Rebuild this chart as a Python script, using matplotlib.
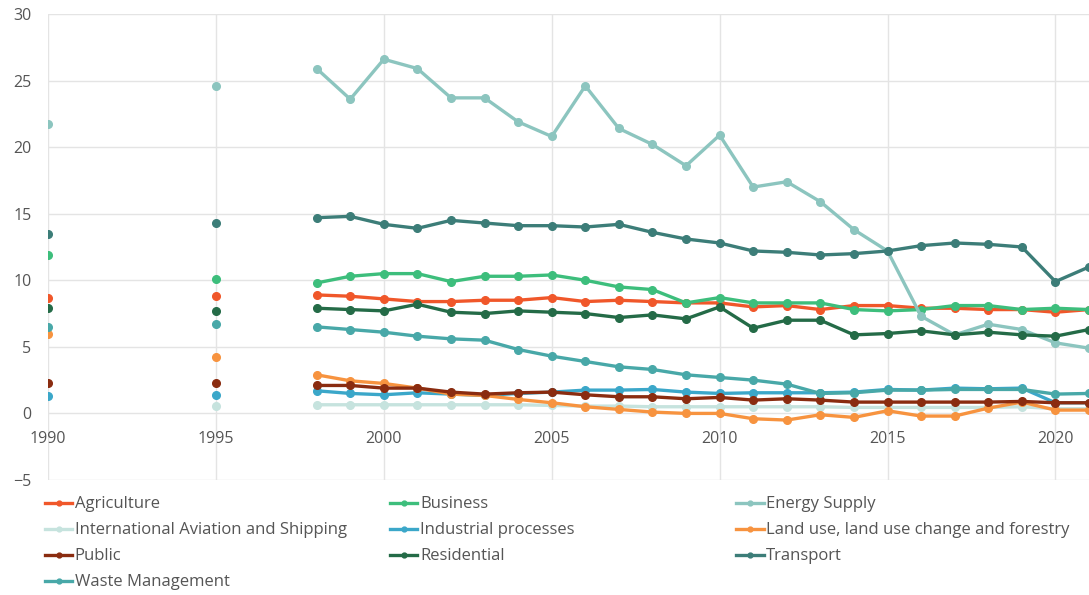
import numpy as np
import matplotlib.pyplot as plt
from matplotlib.lines import Line2D

# ───────────── data (MtCO2e by sector) ─────────────
years = [1990, 1995, 1998, 1999, 2000, 2001, 2002, 2003, 2004, 2005, 2006, 2007,
         2008, 2009, 2010, 2011, 2012, 2013, 2014, 2015, 2016, 2017, 2018, 2019,
         2020, 2021]

agriculture = [8.7, 8.8, 8.9, 8.8, 8.6, 8.4, 8.4, 8.5, 8.5, 8.7, 8.4, 8.5,
               8.4, 8.3, 8.3, 8.0, 8.1, 7.8, 8.1, 8.1, 7.9, 7.9, 7.8, 7.8,
               7.6, 7.8]
business = [11.9, 10.1, 9.8, 10.3, 10.5, 10.5, 9.9, 10.3, 10.3, 10.4, 10.0, 9.5,
            9.3, 8.3, 8.7, 8.3, 8.3, 8.3, 7.8, 7.7, 7.8, 8.1, 8.1, 7.8,
            7.9, 7.8]
energy_supply = [21.7, 24.6, 25.9, 23.6, 26.6, 25.9, 23.7, 23.7, 21.9, 20.8, 24.6, 21.4,
                 20.2, 18.6, 20.9, 17.0, 17.4, 15.9, 13.8, 12.2, 7.3, 5.9, 6.7, 6.3,
                 5.3, 4.9]
intl_aviation = [np.nan, 0.55, 0.65, 0.65, 0.65, 0.65, 0.65, 0.65, 0.65, 0.6, 0.55, 0.55,
                 0.5, 0.5, 0.5, 0.5, 0.5, 0.5, 0.45, 0.45, 0.45, 0.45, 0.45, 0.5,
                 0.35, 0.35]
industrial = [1.3, 1.4, 1.7, 1.5, 1.4, 1.55, 1.45, 1.35, 1.5, 1.6, 1.75, 1.75,
              1.8, 1.6, 1.5, 1.55, 1.55, 1.55, 1.6, 1.8, 1.75, 1.9, 1.85, 1.9,
              0.8, 0.8]
land_use = [6.0, 4.2, 2.9, 2.45, 2.25, 1.9, 1.45, 1.35, 1.05, 0.8, 0.5, 0.3,
            0.1, 0.0, 0.0, -0.4, -0.5, -0.1, -0.3, 0.2, -0.2, -0.2, 0.4, 0.85,
            0.25, 0.25]
public = [2.25, 2.25, 2.1, 2.1, 1.9, 1.9, 1.6, 1.45, 1.55, 1.6, 1.4, 1.25,
          1.25, 1.1, 1.2, 1.0, 1.1, 1.0, 0.85, 0.85, 0.85, 0.85, 0.85, 0.9,
          0.8, 0.8]
residential = [7.9, 7.7, 7.9, 7.8, 7.7, 8.2, 7.6, 7.5, 7.7, 7.6, 7.5, 7.2,
               7.4, 7.1, 8.0, 6.4, 7.0, 7.0, 5.9, 6.0, 6.2, 5.9, 6.1, 5.9,
               5.8, 6.3]
transport = [13.5, 14.3, 14.7, 14.8, 14.2, 13.9, 14.5, 14.3, 14.1, 14.1, 14.0, 14.2,
             13.6, 13.1, 12.8, 12.2, 12.1, 11.9, 12.0, 12.2, 12.6, 12.8, 12.7, 12.5,
             9.9, 11.0]
waste = [6.5, 6.7, 6.5, 6.3, 6.1, 5.8, 5.6, 5.5, 4.8, 4.3, 3.9, 3.5,
         3.3, 2.9, 2.7, 2.5, 2.2, 1.5, 1.55, 1.75, 1.75, 1.8, 1.8, 1.8,
         1.45, 1.5]

labels = ["Agriculture", "Business", "Energy Supply",
          "International Aviation and Shipping", "Industrial processes",
          "Land use, land use change and forestry", "Public", "Residential",
          "Transport", "Waste Management"]
series = [agriculture, business, energy_supply, intl_aviation, industrial,
          land_use, public, residential, transport, waste]
colours = ["#f0572a", "#3dbe7c", "#8cc5bf", "#c6e3de", "#3ba7c9",
           "#f7933f", "#8a2c10", "#246b47", "#3c7d78", "#48a8a8"]

# ───────────── figure ─────────────
plt.rcParams["font.family"] = ["Open Sans", "DejaVu Sans"]
fig = plt.figure(figsize=(10.89, 5.95), dpi=100)
ax = fig.add_axes([0.0441, 0.1933, 0.9559, 0.7832])

handles = []
for lab, vals, col in zip(labels, series, colours):
    # 1990 and 1995 are stand-alone points, the annual series starts in 1998
    ax.plot(years[:2], vals[:2], ls="none", marker="o", ms=5.5, color=col)
    ax.plot(years[2:], vals[2:], marker="o", ms=5.5, lw=2.4, color=col)
    handles.append(Line2D([], [], color=col, lw=2.4, marker="o", ms=3.5))

ax.set_xlim(1990, 2021)
ax.set_ylim(-5, 30)
ax.set_xticks([1990, 1995, 2000, 2005, 2010, 2015, 2020])
ax.set_yticks(range(-5, 31, 5))

ax.grid(True, color="#e4e4e4", lw=1)
ax.set_axisbelow(True)
for side in ["top", "right", "left"]:
    ax.spines[side].set_visible(False)
ax.spines["bottom"].set_position(("data", 0))
ax.spines["bottom"].set_color("none")
ax.tick_params(length=0, labelsize=11.5, labelcolor="#555555")
ax.tick_params(axis="x", pad=13)
ax.tick_params(axis="y", pad=12)

# legend: three fixed-width columns, filled row by row
legend_x = [0.035, 0.352, 0.670]
for c, x in enumerate(legend_x):
    idx = list(range(c, len(labels), 3))
    fig.legend([handles[i] for i in idx], [labels[i] for i in idx],
               loc="upper left", bbox_to_anchor=(x, 0.177),
               frameon=False, fontsize=12, handlelength=1.65,
               handletextpad=0.15, labelspacing=0.6, borderaxespad=0,
               labelcolor="#555555")

fig.savefig("out.png", dpi=100)
